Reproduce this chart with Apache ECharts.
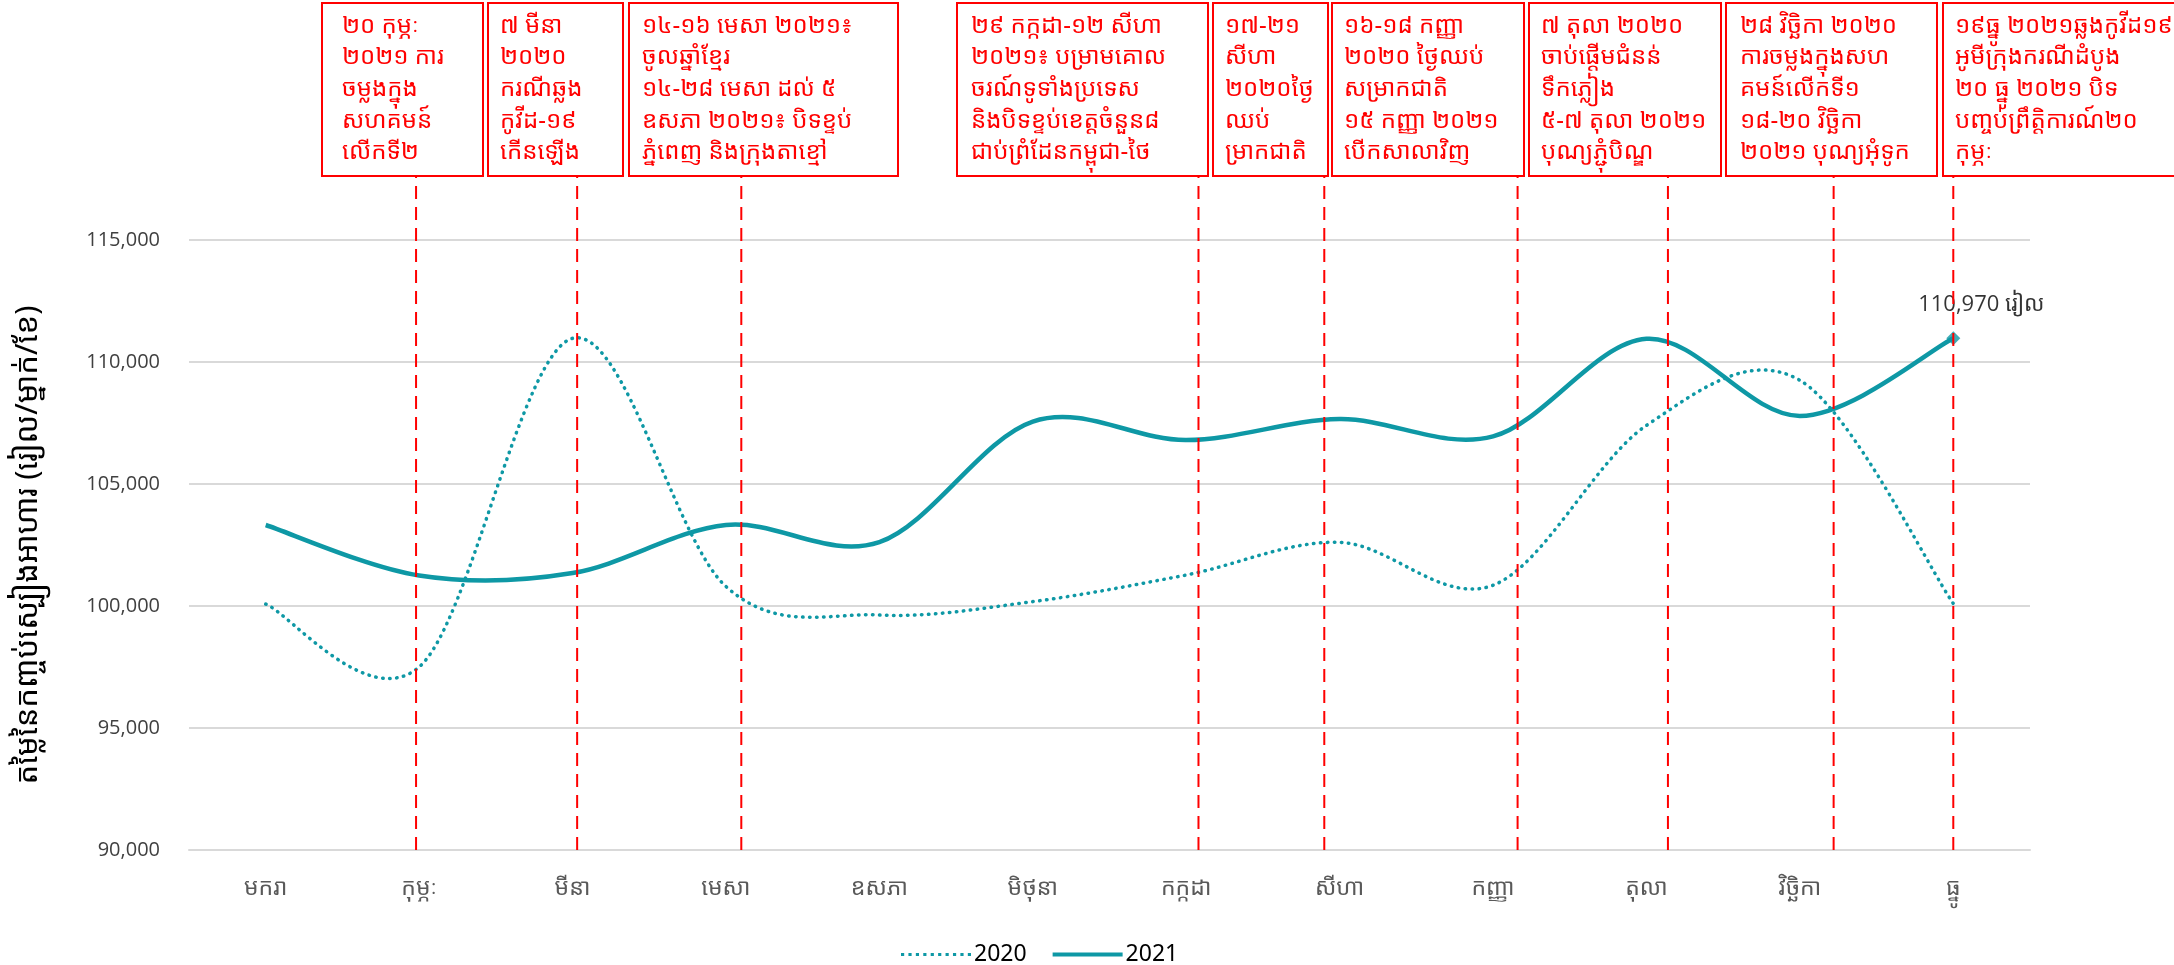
<!DOCTYPE html>
<html>
<head>
    <meta charset="utf-8">
    <title>ECharts</title>
    <script src="https://cdn.jsdelivr.net/npm/echarts@6/dist/echarts.min.js"></script>
</head>
<style>
    *{
        padding: 0;
        margin: 0;
    }
    #main {
        width: 2174px;
        height: 965px;
        position: absolute
    }
</style>
<body>
    <div id="main"></div>
    <script type="text/javascript">
    // months on the x axis
    var months = ['មករា', 'កុម្ភៈ', 'មីនា', 'មេសា', 'ឧសភា', 'មិថុនា', 'កក្កដា', 'សីហា', 'កញ្ញា', 'តុលា', 'វិច្ឆិកា', 'ធ្នូ'];
    // food basket cost (riel / person / month)
    var data2020 = [100080, 97500, 110970, 100800, 99630, 100180, 101270, 102610, 100850, 107400, 109250, 100100];
    var data2021 = [103320, 101250, 101350, 103320, 102620, 107560, 106800, 107660, 106950, 110950, 107790, 110970];
    var yTicks = [90000, 95000, 100000, 105000, 110000, 115000];
    // event lines, in month units (0 = មករា)
    var eventPos = [0.98, 2.03, 3.10, 6.08, 6.90, 8.16, 9.14, 10.22, 11.0];
    var eventText = [
        '២០ កុម្ភៈ\n២០២១ ការ\nចម្លងក្នុង\nសហគមន៍\nលើកទី២',
        '៧ មីនា\n២០២០\nករណីឆ្លង\nកូវីដ-១៩\nកើនឡើង',
        '១៤-១៦ មេសា ២០២១៖\nចូលឆ្នាំខ្មែរ\n១៤-២៨ មេសា ដល់ ៥\nឧសភា ២០២១៖ បិទខ្ទប់\nភ្នំពេញ និងក្រុងតាខ្មៅ',
        '២៩ កក្កដា-១២ សីហា\n២០២១៖ បម្រាមគោល\nចរណ៍ទូទាំងប្រទេស\nនិងបិទខ្ទប់ខេត្តចំនួន៨\nជាប់ព្រំដែនកម្ពុជា-ថៃ',
        '១៧-២១\nសីហា\n២០២០ថ្ងៃ\nឈប់\nម្រាកជាតិ',
        '១៦-១៨ កញ្ញា\n២០២០ ថ្ងៃឈប់\nសម្រាកជាតិ\n១៥ កញ្ញា ២០២១\nបើកសាលាវិញ',
        '៧ តុលា ២០២០\nចាប់ផ្ដើមជំនន់\nទឹកភ្លៀង\n៥-៧ តុលា ២០២១\nបុណ្យភ្ជុំបិណ្ឌ',
        '២៨ វិច្ឆិកា ២០២០\nការចម្លងក្នុងសហ\nគមន៍លើកទី១\n១៨-២០ វិច្ឆិកា\n២០២១ បុណ្យអុំទូក',
        '១៩ធ្នូ ២០២១ឆ្លងកូវីដ១៩\nអូមីក្រុងករណីដំបូង\n២០ ធ្នូ ២០២១ បិទ\nបញ្ចប់ព្រឹត្តិការណ៍២០\nកុម្ភៈ'
    ];
    var lastLabel = '110,970 រៀល';

    // box layout (pixels): left edge, right edge, text padding
    var boxLeft = [322, 488, 629, 957, 1213, 1332, 1529, 1726, 1943];
    var boxRight = [483, 623, 898, 1208, 1328, 1524, 1721, 1937, 2190];
    var boxPad = [20, 12, 13, 14, 12, 12, 12, 14, 12];
    var boxTop = 3, boxBottom = 176;

    var teal = '#0e98a5';
    var khmer = '"Khmer OS System", "Khmer OS", "Noto Sans Khmer", "Noto Serif Khmer", "Noto Sans", sans-serif';

    var graphics = [];
    for (var i = 0; i < eventText.length; i++) {
        graphics.push({
            type: 'group',
            x: boxLeft[i],
            y: boxTop,
            z: 100,
            children: [{
                type: 'rect',
                shape: { x: 0, y: 0, width: boxRight[i] - boxLeft[i], height: boxBottom - boxTop },
                style: { fill: '#ffffff', stroke: '#ff0000', lineWidth: 2 }
            }, {
                type: 'text',
                x: boxPad[i],
                y: 7,
                style: {
                    text: eventText[i],
                    fill: '#ff0000',
                    fontSize: 24,
                    lineHeight: 31.7,
                    fontFamily: khmer
                }
            }]
        });
    }

    // smoothed line like the spreadsheet one (catmull-rom through the points)
    function smoothLine(name, values, style) {
        return {
            name: name,
            type: 'custom',
            xAxisIndex: 1,
            yAxisIndex: 0,
            itemStyle: { color: teal },
            silent: true,
            data: values.map(function (v, i) { return [i, v]; }),
            renderItem: function (params, api) {
                if (params.dataIndex !== 0) return null;
                var p = values.map(function (v, i) { return api.coord([i, v]); });
                var n = p.length;
                var d = 'M' + p[0][0] + ',' + p[0][1];
                for (var k = 0; k < n - 1; k++) {
                    var p0 = p[Math.max(k - 1, 0)], p1 = p[k], p2 = p[k + 1], p3 = p[Math.min(k + 2, n - 1)];
                    var c1x = p1[0] + (p2[0] - p0[0]) / 6, c1y = p1[1] + (p2[1] - p0[1]) / 6;
                    var c2x = p2[0] - (p3[0] - p1[0]) / 6, c2y = p2[1] - (p3[1] - p1[1]) / 6;
                    d += ' C' + c1x + ',' + c1y + ' ' + c2x + ',' + c2y + ' ' + p2[0] + ',' + p2[1];
                }
                return {
                    type: 'path',
                    shape: { pathData: d },
                    style: echarts.util.extend({ fill: 'none', stroke: teal }, style)
                };
            }
        };
    }

    var dotIcon = 'path://';
    for (var k = 0; k < 10; k++) {
        dotIcon += 'M' + (k * 7) + ',0h3v3h-3z';
    }
    var lineIcon = 'path://M0,0H70V4H0Z';

    var myChart = echarts.init(document.getElementById('main'));
    var option = {
        animation: false,
        backgroundColor: '#ffffff',
        grid: { left: 189, right: 144, top: 240, bottom: 115 },
        legend: {
            data: [{ name: '2020', icon: dotIcon }, { name: '2021', icon: lineIcon }],
            top: 938,
            left: 896,
            itemWidth: 70,
            itemHeight: 14,
            itemGap: 26,
            textStyle: { fontSize: 23, color: '#000', padding: [0, 0, 0, -2], fontFamily: '"Liberation Sans Narrow", "Noto Sans", sans-serif' }
        },
        xAxis: [{
            type: 'category',
            data: months,
            boundaryGap: true,
            axisLine: { lineStyle: { color: '#d9d9d9', width: 2 } },
            axisTick: { show: false },
            axisLabel: { margin: 27, fontSize: 23, color: '#595959', fontFamily: khmer }
        }, {
            type: 'value',
            min: -0.5,
            max: 11.5,
            show: false
        }],
        yAxis: {
            type: 'value',
            min: yTicks[0],
            max: yTicks[yTicks.length - 1],
            interval: 5000,
            name: 'តម្លៃនៃកញ្ចប់ស្បៀងអាហារ (រៀល/ម្នាក់/ខែ)',
            nameLocation: 'middle',
            nameGap: 145,
            nameRotate: 90,
            nameTextStyle: { fontSize: 31, color: '#000', fontFamily: khmer },
            axisLine: { show: false },
            axisTick: { show: false },
            axisLabel: {
                margin: 29,
                fontSize: 20,
                color: '#404040',
                fontFamily: '"Open Sans", sans-serif',
                formatter: function (v) { return v.toLocaleString('en-US'); }
            },
            splitLine: { lineStyle: { color: '#d9d9d9', width: 2 } }
        },
        series: [
            smoothLine('2020', data2020, { lineWidth: 3.5, lineDash: [0.5, 6.5], lineCap: 'round' }),
            smoothLine('2021', data2021, { lineWidth: 4.5 }),
            {
                type: 'scatter',
                xAxisIndex: 1,
                yAxisIndex: 0,
                z: 5,
                silent: true,
                symbol: 'diamond',
                symbolSize: 14,
                itemStyle: { color: teal },
                data: [[data2021.length - 1, data2021[data2021.length - 1]]],
                label: {
                    show: true,
                    position: 'top',
                    distance: 16,
                    offset: [28, 0],
                    formatter: lastLabel,
                    fontSize: 22,
                    color: '#000',
                    fontFamily: '"Open Sans", ' + khmer
                }
            }, {
                type: 'custom',
                xAxisIndex: 1,
                yAxisIndex: 0,
                z: 20,
                silent: true,
                data: eventPos.map(function (p) { return [p, yTicks[0]]; }),
                renderItem: function (params, api) {
                    var b = api.coord([api.value(0), api.value(1)]);
                    return {
                        type: 'line',
                        shape: { x1: b[0], y1: b[1], x2: b[0], y2: boxBottom },
                        style: { stroke: '#ff0000', lineWidth: 2, lineDash: [13, 8] }
                    };
                }
            }
        ],
        graphic: graphics
    };
    myChart.setOption(option);
    </script>
</body>
</html>
